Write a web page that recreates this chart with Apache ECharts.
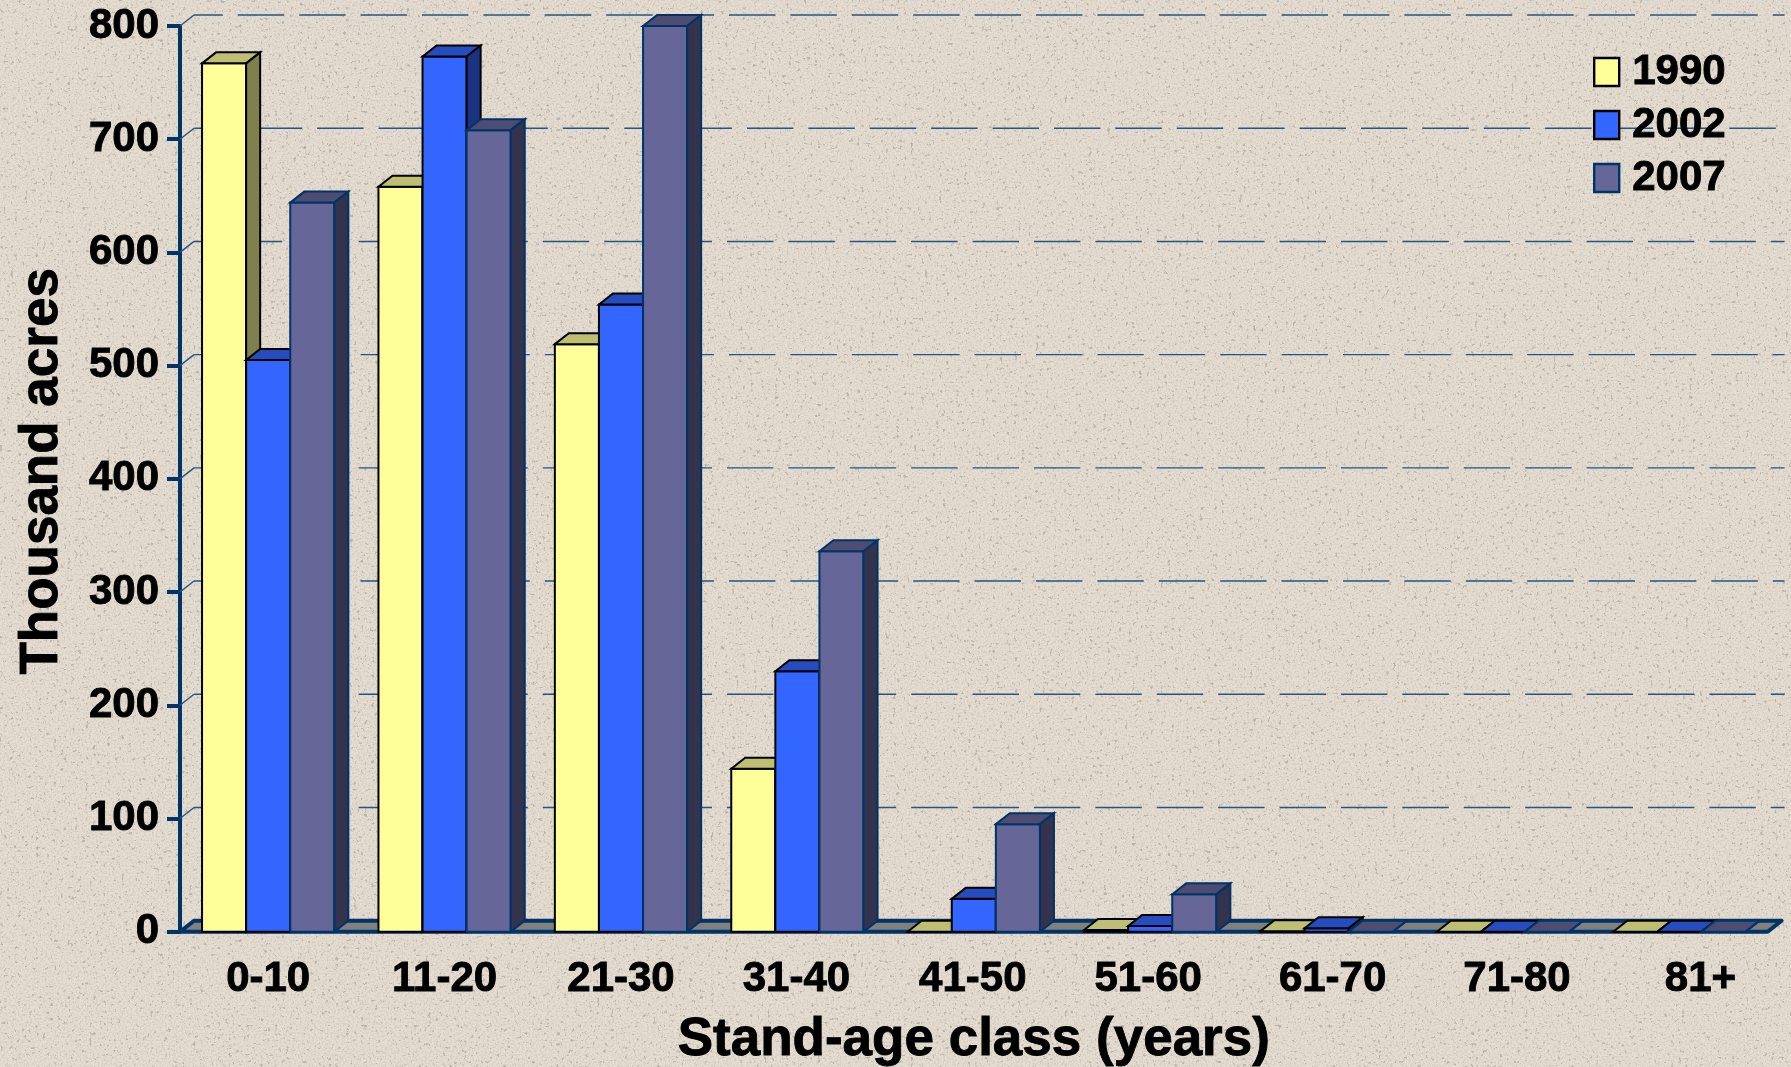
<!DOCTYPE html>
<html>
<head>
<meta charset="utf-8">
<style>
html,body{margin:0;padding:0;background:#E5DDD1;width:1791px;height:1067px;overflow:hidden}
#tex{position:absolute;left:0;top:0}
#chart{position:absolute;left:0;top:0;width:1791px;height:1067px}
</style>
<script src="https://cdn.jsdelivr.net/npm/echarts@6/dist/echarts.min.js"></script>
</head>
<body>
<svg id="tex" width="1791" height="1067">
<filter id="n" x="0" y="0" width="100%" height="100%"><feTurbulence type="fractalNoise" baseFrequency="0.55" numOctaves="2" seed="7"/><feColorMatrix values="0 0 0 0 0.55  0 0 0 0 0.5  0 0 0 0 0.42  0 0 0 1.6 -0.68"/></filter>
<filter id="s" x="0" y="0" width="100%" height="100%"><feTurbulence type="fractalNoise" baseFrequency="0.28" numOctaves="3" seed="21"/><feColorMatrix values="0 0 0 0 0.35  0 0 0 0 0.32  0 0 0 0 0.28  0 0 0 14 -9.4"/></filter>
<rect width="1791" height="1067" filter="url(#n)"/>
<rect width="1791" height="1067" filter="url(#s)" opacity="0.55"/>
</svg>
<div id="chart"></div>
<script>
const categories = ['0-10','11-20','21-30','31-40','41-50','51-60','61-70','71-80','81+'];
const years = ['1990','2002','2007'];
const values1990 = [767,658,519,144,0,1.5,0.5,0,0];
const values2002 = [505,773,554,230,29,5,3,0,0];
const values2007 = [644,708,800,336,95,33,0,0,0];
const yTicks = [100,200,300,400,500,600,700,800];
const gridDashStarts = [727,727,729,727,729,727,747,729];
const labelShifts = [0,0,0,-1,-1,-2,6,14,21];

const depthX = 14, depthY = 11, dashOn = 46.4, dashOff = 15;
const FONT = '"Liberation Sans", Arial, sans-serif';
const NAVY = '#003366';
const palette = [
  {front:'#FFFF99', top:'#BFBF73', side:'#80804D', stroke:'#000000'},
  {front:'#3366FF', top:'#264DBF', side:'#1A3380', stroke:'#000000'},
  {front:'#666699', top:'#4D4D73', side:'#33334D', stroke:NAVY}
];
const heavy = {textBorderColor:'#000', textBorderWidth:0.9};

function renderBar(seriesPos){
  return function(params, api){
    const cat = api.value(0), val = api.value(1);
    const c0 = api.coord([cat, 0]);
    const c1 = api.coord([cat, val]);
    const w = api.size([1,0])[0] / 4;
    const x = c0[0] + (seriesPos - 1.5) * w;
    const yb = c0[1], yt = c1[1];
    const p = palette[seriesPos];
    const base = {stroke:p.stroke, lineWidth:2, lineJoin:'miter'};
    return {type:'group', children:[
      {type:'polygon', shape:{points:[[x,yb],[x+w,yb],[x+w,yt],[x,yt]]}, style:Object.assign({fill:p.front},base)},
      {type:'polygon', shape:{points:[[x,yt],[x+depthX,yt-depthY],[x+w+depthX,yt-depthY],[x+w,yt]]}, style:Object.assign({fill:p.top},base)},
      {type:'polygon', shape:{points:[[x+w,yt],[x+w+depthX,yt-depthY],[x+w+depthX,yb-depthY],[x+w,yb]]}, style:Object.assign({fill:p.side},base)}
    ]};
  };
}
function renderGrid(params, api){
  const v = api.value(1);
  const cs = params.coordSys;
  const y = api.coord([0, v])[1];
  const x0 = cs.x, xb = x0 + depthX, xr = x0 + cs.width + depthX + 3;
  const start = gridDashStarts[params.dataIndex];
  const P = dashOn + dashOff;
  const offset = (((xb - start) % P) + P) % P;
  const st = {stroke:'#245585', lineWidth:1.4, fill:null};
  return {type:'group', children:[
    {type:'line', shape:{x1:x0,y1:y,x2:xb,y2:y-depthY}, style:st},
    {type:'line', shape:{x1:xb,y1:y-depthY,x2:xr,y2:y-depthY}, style:Object.assign({lineDash:[dashOn,dashOff], lineDashOffset:offset},st)}
  ]};
}
function renderFloor(params, api){
  const cs = params.coordSys;
  const y = api.coord([0,0])[1];
  const x0 = cs.x, x1 = cs.x + cs.width;
  return {type:'polygon', shape:{points:[[x0,y],[x1,y],[x1+depthX,y-depthY],[x0+depthX,y-depthY]]},
    style:{fill:'#808080', stroke:NAVY, lineWidth:4, lineJoin:'round'}};
}
const seriesOf = (name, arr, i) => ({
  name, type:'custom', renderItem:renderBar(i), encode:{x:0,y:1},
  itemStyle:{color:palette[i].front},
  data:arr.map((v,k)=>[k,v]), z:5+i
});
const rich = {};
labelShifts.forEach(s=>{
  rich['s'+(s+50)] = Object.assign({fontFamily:FONT,fontWeight:'bold',fontSize:42,color:'#000',
    padding:s>=0?[0,0,0,2*s]:[0,-2*s,0,0]},heavy);
});
const chart = echarts.init(document.getElementById('chart'), null, {renderer:'canvas'});
chart.setOption({
  animation:false,
  backgroundColor:'transparent',
  grid:{left:180, top:26, width:1587.6, height:905.7, containLabel:false, outerBoundsMode:'none'},
  legend:{
    orient:'vertical', left:1593, top:49, padding:0, itemWidth:25, itemHeight:28, itemGap:7, icon:'rect',
    selectedMode:false,
    textStyle:Object.assign({fontFamily:FONT,fontWeight:'bold',fontSize:42,color:'#000',padding:[4,0,0,8],lineHeight:42},heavy),
    data:years.map((y,i)=>({name:y,itemStyle:{color:palette[i].front,borderColor:palette[i].stroke,borderWidth:2.4}}))
  },
  xAxis:{
    type:'category', data:categories,
    axisLine:{show:false}, axisTick:{show:false}, splitLine:{show:false},
    axisLabel:{interval:0, margin:27, formatter:(v,i)=>'{s'+(labelShifts[i]+50)+'|'+v+'}', rich},
    name:'Stand-age class (years)', nameLocation:'middle', nameGap:82,
    nameTextStyle:Object.assign({fontFamily:FONT,fontWeight:'bold',fontSize:53,color:'#000'},heavy)
  },
  yAxis:{
    type:'value', min:0, max:800, interval:100,
    axisLine:{show:true,lineStyle:{color:NAVY,width:4}},
    axisTick:{show:true,length:13,lineStyle:{color:NAVY,width:4}},
    splitLine:{show:false},
    axisLabel:Object.assign({margin:21,fontFamily:FONT,fontWeight:'bold',fontSize:42,color:'#000',padding:[16,0,0,0]},heavy),
    name:'Thousand acres', nameLocation:'middle', nameGap:111, nameRotate:90,
    nameTextStyle:Object.assign({fontFamily:FONT,fontWeight:'bold',fontSize:53,color:'#000',padding:[0,0,0,15]},heavy)
  },
  series:[
    {name:'grid',type:'custom',renderItem:renderGrid,encode:{x:0,y:1},data:yTicks.map(v=>[0,v]),z:1,silent:true},
    {name:'floor',type:'custom',renderItem:renderFloor,encode:{x:0,y:1},data:[[0,0]],z:2,silent:true},
    seriesOf(years[0],values1990,0),
    seriesOf(years[1],values2002,1),
    seriesOf(years[2],values2007,2)
  ]
});
</script>
</body>
</html>
